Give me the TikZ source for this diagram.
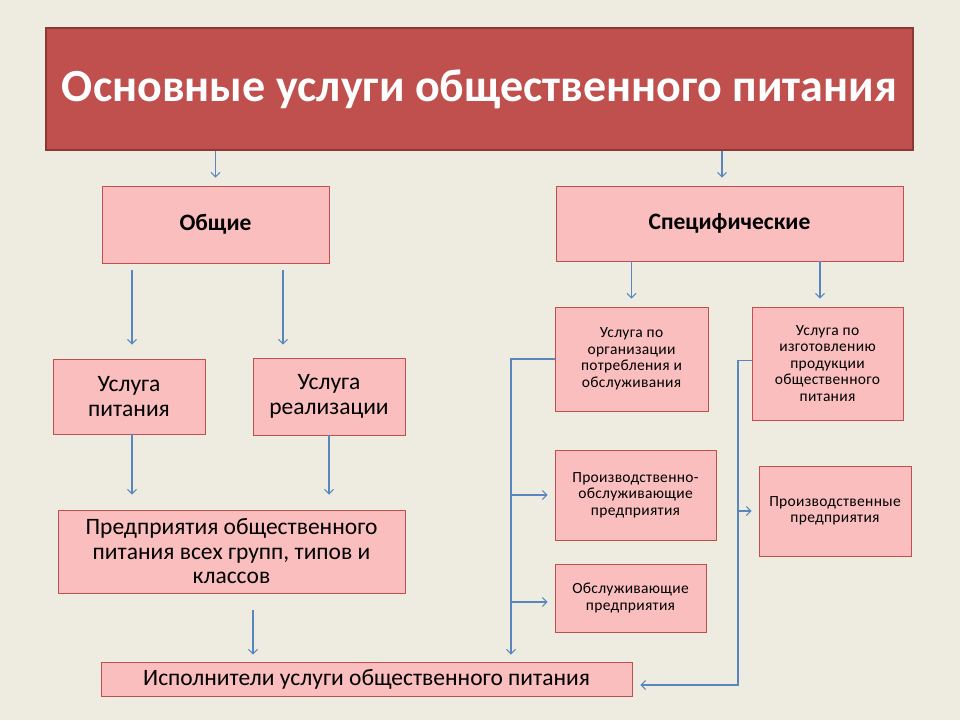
\documentclass[tikz,border=0pt]{standalone}
\usepackage{fontspec}
\setmainfont{Carlito}
\newfontfamily\spaced[LetterSpace=2]{Carlito}
\usepackage{tikz}
\usetikzlibrary{arrows.meta}
\definecolor{bg}{HTML}{EEECE1}
\definecolor{rose}{HTML}{F9BEBD}
\definecolor{redline}{HTML}{C0504D}
\definecolor{darkred}{HTML}{8C3836}
\definecolor{steel}{HTML}{5A86BE}
\tikzset{a/.style={draw=steel, line width=1.1pt, -{Straight Barb[length=4.5pt,width=9pt]}}}

\begin{document}
\begin{tikzpicture}[x=1pt,y=-1pt,
box/.style={rectangle, draw=redline, fill=rose, line width=0.8pt, align=center, inner sep=2pt},
big/.style={box, font=\fontsize{23.5}{24.5}\selectfont},
small/.style={box, font=\spaced\fontsize{15.5}{16.5}\selectfont},
head/.style={box, font=\fontsize{23.5}{26}\selectfont\bfseries},
]
\useasboundingbox (0,0) rectangle (960,720);
\fill[bg] (0,0) rectangle (960,720);
\node[rectangle, draw=darkred, line width=1.5pt, fill=redline, text=white, minimum width=867pt, minimum height=122pt, font=\fontsize{46}{52}\selectfont\bfseries] (title) at (479.5,89) {Основные услуги общественного питания};
\node[head, minimum width=227pt, minimum height=77pt] (obsh) at (215.5,224.5) {Общие};
\node[head, minimum width=347pt, minimum height=75pt] (spec) at (729.5,223.5) {Специфические};
\node[big, minimum width=152pt, minimum height=75pt] (usp) at (129,396.5) {Услуга\\питания};
\node[big, minimum width=152pt, minimum height=77pt] (usr) at (329,396.5) {Услуга\\реализации};
\node[big, minimum width=347pt, minimum height=83pt] (pred) at (231.5,551.5) {Предприятия общественного\\питания всех групп, типов и\\классов};
\node[big, minimum width=531pt, minimum height=34pt] (isp) at (366.5,679) {Исполнители услуги общественного питания};
\node[small, minimum width=153pt, minimum height=104pt] (org) at (631.5,359) {Услуга по\\организации\\потребления и\\обслуживания};
\node[small, minimum width=151pt, minimum height=113pt] (izg) at (827.5,363.5) {Услуга по\\изготовлению\\продукции\\общественного\\питания};
\node[small, minimum width=161pt, minimum height=90pt] (pro) at (635.5,495) {Производственно-\\обслуживающие\\предприятия};
\node[small, minimum width=151pt, minimum height=68pt] (obs) at (630.5,598) {Обслуживающие\\предприятия};
\node[small, minimum width=152pt, minimum height=90pt] (prz) at (835,511) {Производственные\\предприятия};
\coordinate (lb) at (511,0);
\coordinate (rb) at (738,0);
\draw[a, shorten >=8pt] (title.south -| obsh) -- (obsh.north);
\draw[a, shorten >=8pt] ([xshift=-7.5pt]title.south -| spec) -- ([xshift=-7.5pt]spec.north);
\draw[a, shorten <=7pt, shorten >=14pt] ([xshift=3pt]usp.north |- obsh.south) -- ([xshift=3pt]usp.north);
\draw[a, shorten <=7pt, shorten >=13pt] ([xshift=67.5pt]obsh.south) -- ([xshift=67.5pt]obsh.south |- usr.north);
\draw[a, shorten >=15pt] ([xshift=3pt]usp.south) -- ([xshift=3pt]usp.south |- pred.north);
\draw[a, shorten >=15pt] (usr.south) -- (usr.south |- pred.north);
\draw[a, shorten <=17pt, shorten >=7pt] ([xshift=21.5pt]pred.south) -- ([xshift=21.5pt]pred.south |- isp.north);
\draw[a, shorten >=8pt] (spec.south -| org) -- (org.north);
\draw[a, shorten >=8pt] ([xshift=-7.5pt]spec.south -| izg) -- ([xshift=-7.5pt]izg.north);
\draw[a, shorten >=7pt] (org.west) -| (lb |- isp.north);
\draw[a, shorten >=7pt] (lb |- pro) -- (pro.west);
\draw[a, shorten >=7pt] ([yshift=-4pt]lb |- obs) -- ([yshift=-4pt]obs.west);
\draw[a, shorten >=8pt] ([yshift=3pt]izg.west) -| ([yshift=-6pt]rb |- isp) -- ([yshift=-6pt]isp.east);
\draw[a, shorten >=7pt] (rb |- prz) -- (prz.west);
\end{tikzpicture}
\end{document}
